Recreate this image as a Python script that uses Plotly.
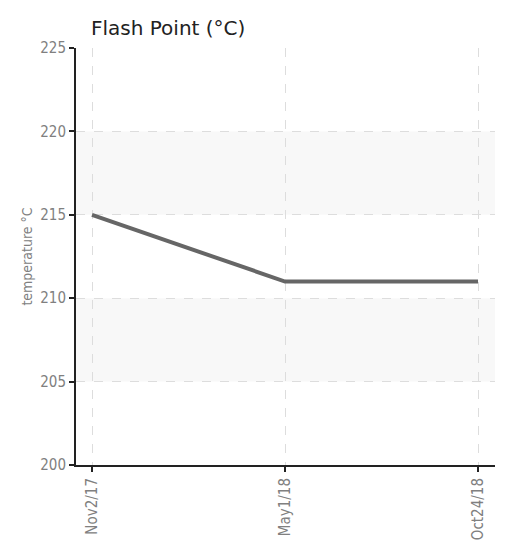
import plotly.graph_objects as go

dates = ["Nov2/17", "May1/18", "Oct24/18"]
flash_point = [215, 211, 211]
y_ticks = [200, 205, 210, 215, 220, 225]
bands = [(205, 210), (215, 220)]

fig = go.Figure()
fig.add_trace(go.Scatter(x=dates, y=flash_point, mode="lines",
                         line=dict(color="#666666", width=4), hoverinfo="x+y"))

for lo, hi in bands:
    fig.add_shape(type="rect", xref="x domain", yref="y", x0=0, x1=1, y0=lo, y1=hi,
                  fillcolor="#f8f8f8", line=dict(width=0), layer="below")

narrow = "DejaVu Sans Condensed, Liberation Sans Narrow, sans-serif"
tickfont = dict(family=narrow, size=15, color="#808080")
fig.update_layout(
    width=503, height=533,
    margin=dict(l=68, r=16, t=40, b=76, autoexpand=False),
    paper_bgcolor="white", plot_bgcolor="white",
    showlegend=False,
    title=dict(text="Flash Point (°C)", x=0.165, xanchor="left", y=0.9625, yanchor="middle",
               font=dict(family="DejaVu Sans, Verdana, sans-serif", size=20, color="#222222")),
    xaxis=dict(type="category", range=[-0.083, 2.088], tickangle=-90, automargin=False,
               showgrid=True, gridcolor="#dddddd", griddash="dash", gridwidth=1,
               showline=True, linecolor="#222222", linewidth=2,
               ticks="outside", ticklen=5, tickcolor="#222222", tickwidth=2,
               tickfont=tickfont, zeroline=False),
    yaxis=dict(range=[200, 225], tickvals=y_ticks, automargin=False,
               showgrid=True, gridcolor="#dddddd", griddash="dash", gridwidth=1,
               showline=True, linecolor="#222222", linewidth=2,
               ticks="outside", ticklen=5, tickcolor="#222222", tickwidth=2,
               tickfont=tickfont, zeroline=False,
               title=dict(text="temperature °C", standoff=4,
                          font=dict(family=narrow, size=14, color="#808080"))),
)
fig.write_html("out.html")
